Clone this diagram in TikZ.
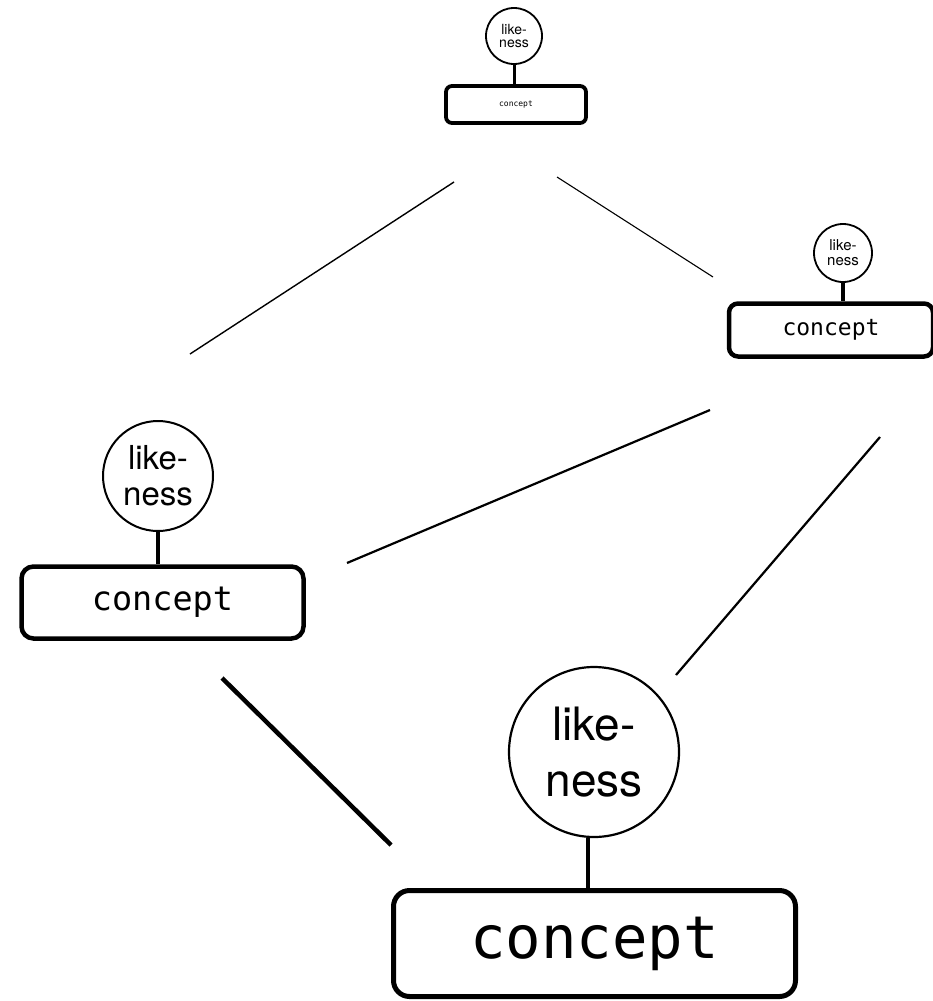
\documentclass[tikz,border=0pt]{standalone}
\usepackage{fontspec}
\setmainfont{TeX Gyre Heros}
\newfontfamily\monofam{DejaVu Sans Mono}
\begin{document}
\begin{tikzpicture}[x=1pt,y=-1pt,
  like/.style={draw,circle,fill=white,inner sep=0pt,align=center},
  conc/.style={draw,rectangle,fill=white,inner sep=0pt,font=\monofam}]
\useasboundingbox (0,0) rectangle (933,1001);
% top
\node[like,minimum size=56pt,line width=1.8pt,font=\fontsize{14}{13}\selectfont] (tl) at (514,36) {like-\\ness};
\node[conc,minimum width=140pt,minimum height=37pt,rounded corners=6pt,line width=3.8pt,font=\monofam\fontsize{8}{9}\selectfont] (tc) at (516,104.5) {concept};
\draw[line width=3pt] (tl.south) -- (tl.south |- tc.north);
% right
\node[like,minimum size=58pt,line width=1.8pt,font=\fontsize{15}{15}\selectfont] (rl) at (843,253) {like-\\ness};
\node[conc,minimum width=204pt,minimum height=53pt,rounded corners=9pt,line width=4.5pt,font=\monofam\fontsize{23}{26}\selectfont] (rc) at (831,330) {concept};
\draw[line width=3.5pt] (rl.south) -- (rl.south |- rc.north);
% left
\node[like,minimum size=110pt,line width=2pt,font=\fontsize{33}{36}\selectfont] (ll) at (158,476) {like-\\ness};
\node[conc,minimum width=282pt,minimum height=72pt,rounded corners=12pt,line width=4.5pt,font=\monofam\fontsize{33.5}{36}\selectfont] (lc) at (162.5,602.5) {concept};
\draw[line width=4.5pt] (ll.south) -- (ll.south |- lc.north);
% bottom
\node[like,minimum size=170pt,line width=2.2pt,font=\fontsize{46}{56}\selectfont] (bl) at (594,752) {like-\\ness};
\node[conc,minimum width=402pt,minimum height=106pt,rounded corners=16pt,line width=5pt,font=\monofam\fontsize{59}{64}\selectfont] (bc) at (594.5,943.5) {concept};
\draw[line width=4pt] (588,838) coordinate (bs) -- (bs |- bc.north);
% connectors
\coordinate (a1) at (454,182); \coordinate (a2) at (190,354);
\coordinate (b1) at (557,177); \coordinate (b2) at (713,277);
\coordinate (c1) at (710,410); \coordinate (c2) at (347,563);
\coordinate (d1) at (880,437); \coordinate (d2) at (676,675);
\coordinate (e1) at (222,678); \coordinate (e2) at (391,845);
\draw[line width=1.4pt] (a1) -- (a2);
\draw[line width=1.1pt] (b1) -- (b2);
\draw[line width=2.2pt] (c1) -- (c2);
\draw[line width=2.2pt] (d1) -- (d2);
\draw[line width=4.5pt] (e1) -- (e2);
\end{tikzpicture}
\end{document}
